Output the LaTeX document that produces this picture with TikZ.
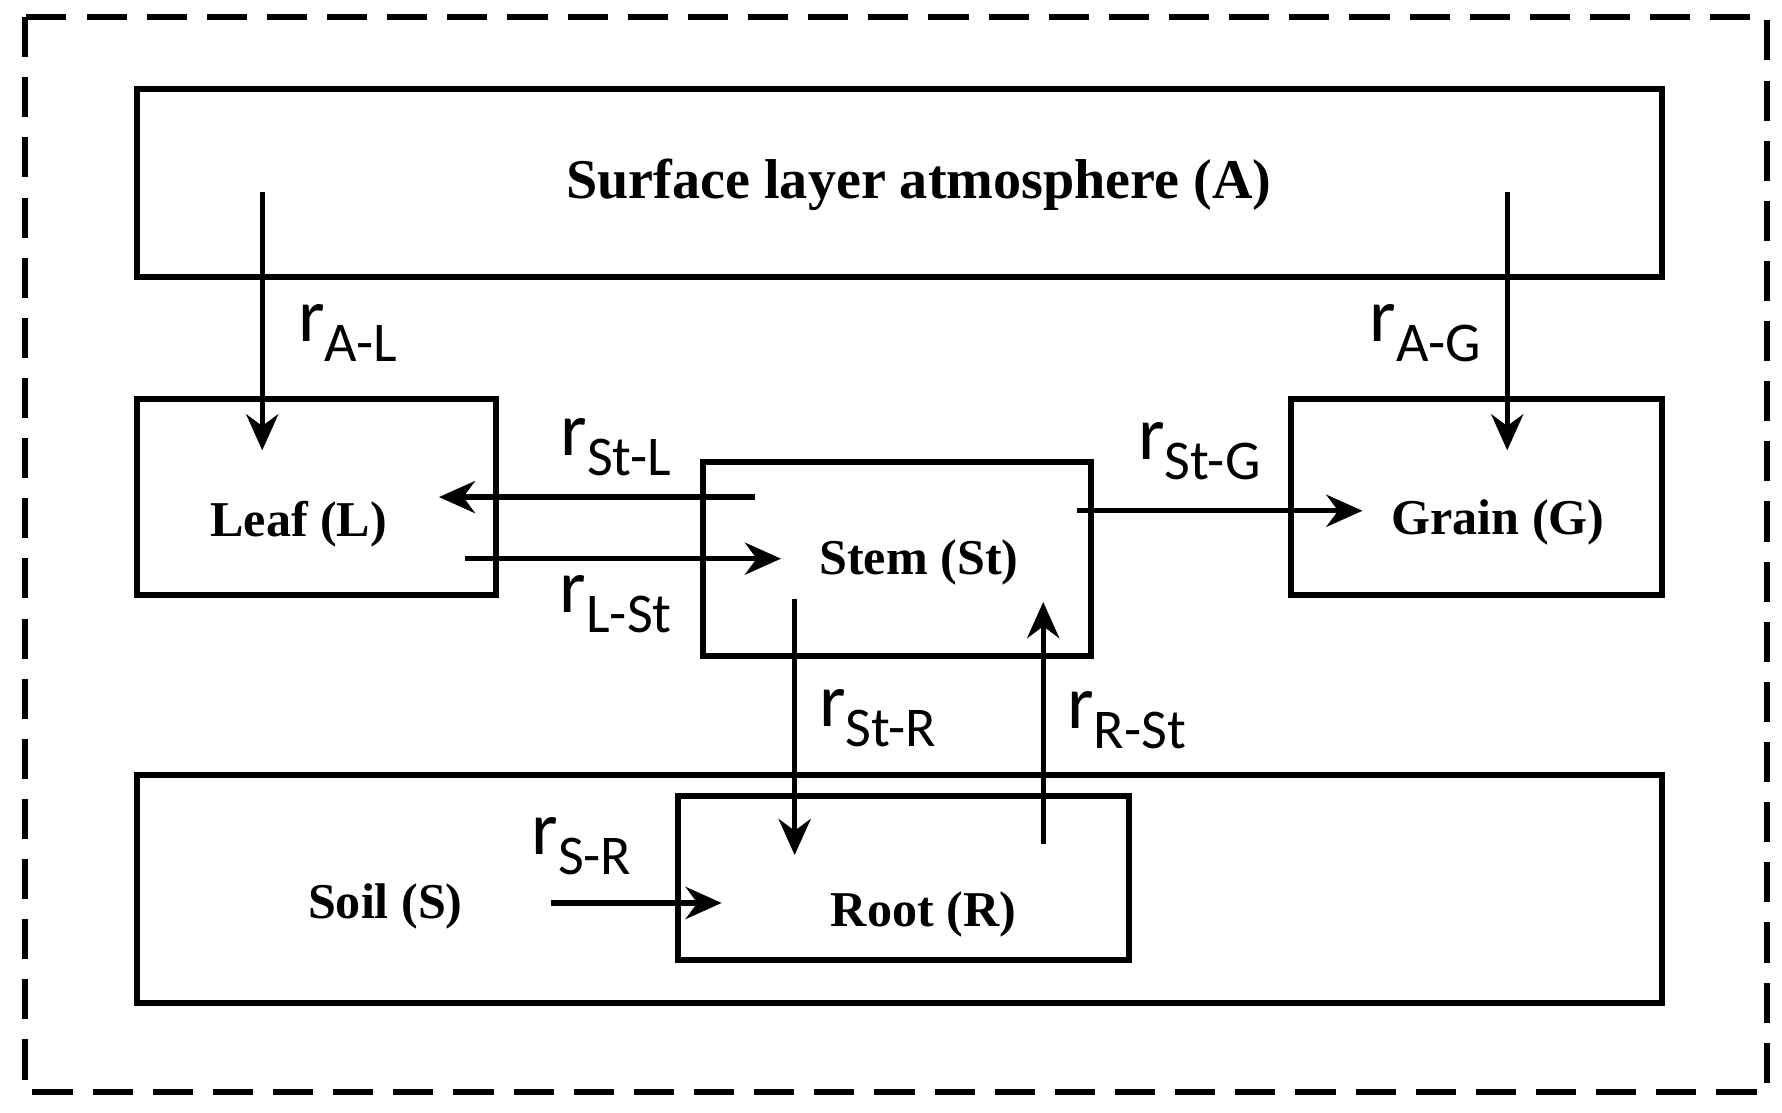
\documentclass[tikz,border=0pt]{standalone}
\usepackage{fontspec}
\setmainfont{Liberation Serif}
\newfontfamily\lblfont{Carlito}
\usetikzlibrary{arrows.meta}
\newcommand{\rate}[1]{{\lblfont\fontsize{19}{19}\selectfont r\raisebox{-0.55ex}{\fontsize{14}{14}\selectfont #1}}}
\begin{document}
\begin{tikzpicture}
	[x=0.01cm,y=-0.01cm,line width=1.5pt,>={Stealth[length=9pt,width=8pt]},
		title/.style={font=\bfseries\fontsize{12.5}{14}\selectfont},
		flux/.style={->,line width=1.3pt}]

	\useasboundingbox (0,0) rectangle (1563,976);
	\draw[dash pattern=on 10pt off 5pt] (22,15) rectangle (1550,958);

	% compartments
	\draw (120,78) rectangle (1458,243);
	\draw (120,350) rectangle (435,522);
	\draw (617,405) rectangle (957,575);
	\draw (1132,350) rectangle (1458,522);
	\draw (120,680) rectangle (1458,880);
	\draw[fill=white] (595,698) rectangle (990,842);

	\node[title,font=\bfseries\fontsize{14}{16}\selectfont] (A) at (806,162) {Surface layer atmosphere (A)};
	\node[title] (L)  at (262,460)  {Leaf (L)};
	\node[title] (St) at (806,493)  {Stem (St)};
	\node[title] (G)  at (1314,458) {Grain (G)};
	\node[title] (S)  at (338,795)  {Soil (S)};
	\node[title] (R)  at (810,802)  {Root (R)};

	% arrow ends
	\coordinate (al0) at (230,168);  \coordinate (al1) at (230,395);
	\coordinate (ag0) at (1322,168); \coordinate (ag1) at (1322,395);
	\coordinate (sl0) at (662,436);  \coordinate (sl1) at (385,436);
	\coordinate (ls0) at (408,490);  \coordinate (ls1) at (685,490);
	\coordinate (sg0) at (945,448);  \coordinate (sg1) at (1195,448);
	\coordinate (sr0) at (697,525);  \coordinate (sr1) at (697,750);
	\coordinate (rs0) at (915,740);  \coordinate (rs1) at (915,528);
	\coordinate (so0) at (483,792);  \coordinate (so1) at (633,792);

	\draw[flux] (al0) -- (al1);
	\draw[flux] (ag0) -- (ag1);
	\draw[flux] (sl0) -- (sl1);
	\draw[flux] (ls0) -- (ls1);
	\draw[flux] (sg0) -- (sg1);
	\draw[flux] (sr0) -- (sr1);
	\draw[flux] (rs0) -- (rs1);
	\draw[flux] (so0) -- (so1);

	\node (rAL)  at (305,292)  {\rate{A-L}};
	\node (rAG)  at (1250,292) {\rate{A-G}};
	\node (rStL) at (540,392)  {\rate{St-L}};
	\node (rLSt) at (540,530)  {\rate{L-St}};
	\node (rStG) at (1052,396) {\rate{St-G}};
	\node (rStR) at (770,630)  {\rate{St-R}};
	\node (rRSt) at (988,632)  {\rate{R-St}};
	\node (rSR)  at (510,742)  {\rate{S-R}};
\end{tikzpicture}
\end{document}
